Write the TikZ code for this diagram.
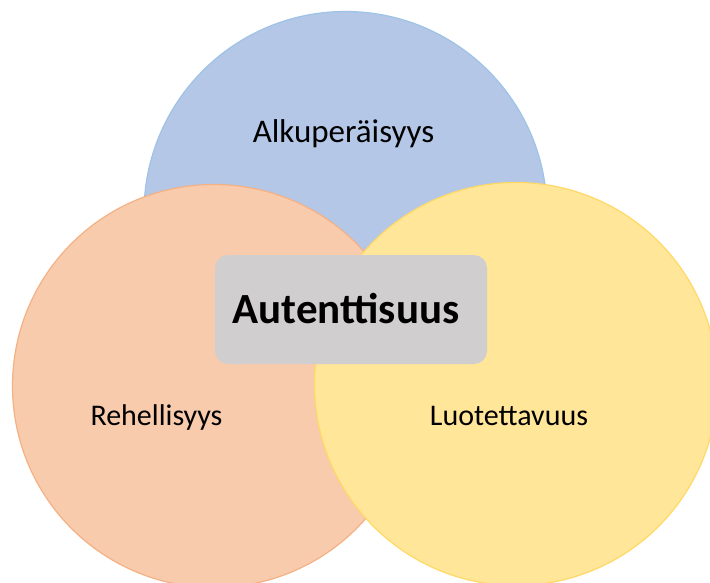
\documentclass[tikz,border=0pt]{standalone}
\usepackage{fontspec}
\setmainfont{Carlito}
\definecolor{bluefill}{HTML}{B4C7E7}
\definecolor{bluedraw}{HTML}{9DC3E6}
\definecolor{orangefill}{HTML}{F8CBAD}
\definecolor{orangedraw}{HTML}{F4B183}
\definecolor{yellowfill}{HTML}{FFE699}
\definecolor{yellowdraw}{HTML}{FFD966}
\definecolor{grayfill}{HTML}{D0CECE}
\tikzset{
  circ/.style={circle, line width=1.2pt, minimum size=403pt, inner sep=0pt},
  lbl/.style={anchor=base, font=\fontsize{30}{36}\selectfont, inner sep=0pt},
  core/.style={rounded corners=13pt, fill=grayfill, draw=none}
}
\begin{document}
\begin{tikzpicture}[x=1pt,y=-1pt]
\useasboundingbox (0,0) rectangle (710,583);
\begin{scope}
\clip (0,0) rectangle (710,583);
\node[circ, fill=bluefill, draw=bluedraw] (blue) at (345.5,213) {};
\node[circ, fill=orangefill, draw=orangedraw] (orange) at (214,386) {};
\node[circ, fill=yellowfill, draw=yellowdraw] (yellow) at (516,384) {};
\end{scope}
\node[core, minimum width=272pt, minimum height=109pt] (box) at (351,309.5) {};
\node[anchor=base, inner sep=0pt, font=\fontsize{43}{50}\selectfont\bfseries] (aut) at (346,323) {Autenttisuus};
\node[lbl, font=\fontsize{33}{38}\selectfont] (alk) at (343.5,143) {Alkuperäisyys};
\node[lbl] (reh) at (156.5,425) {Rehellisyys};
\node[lbl] (luo) at (509,425) {Luotettavuus};
\end{tikzpicture}
\end{document}
